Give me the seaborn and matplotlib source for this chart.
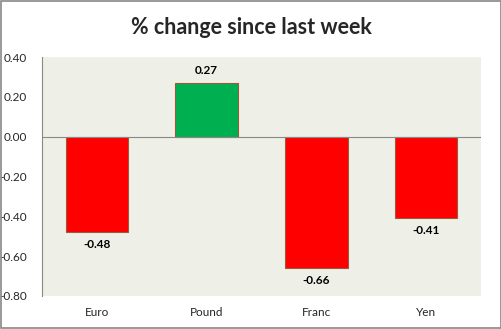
import matplotlib
matplotlib.use("Agg")
import matplotlib.pyplot as plt
import seaborn as sns
import pandas as pd
from matplotlib.patches import Rectangle

categories = ["Euro", "Pound", "Franc", "Yen"]
values = [-0.48, 0.27, -0.66, -0.41]
bar_colors = ["#FF0000" if v < 0 else "#00B050" for v in values]
yticks = [0.40, 0.20, 0.00, -0.20, -0.40, -0.60, -0.80]

sns.set_theme(style="white")
plt.rcParams['font.family'] = ['Lato', 'DejaVu Sans']

df = pd.DataFrame({"cat": categories, "val": values})

fig = plt.figure(figsize=(5.02, 3.29), dpi=100)
ax = fig.add_axes([42/502, 1-296/329, (481-42)/502, (296-57)/329])
ax.set_facecolor("#EEF0E8")

sns.barplot(data=df, x="cat", y="val", hue="cat", palette=bar_colors, legend=False,
            width=0.57, edgecolor="#9C5A3C", linewidth=0.8, ax=ax, saturation=1)

ax.set_ylim(-0.80, 0.40)
ax.set_xlim(-0.5, 3.5)
ax.set_yticks(yticks)
ax.set_yticklabels([f"{t:.2f}" for t in yticks], fontsize=8.5)
ax.tick_params(axis='y', length=0, pad=11)
ax.tick_params(axis='x', length=0, pad=8, labelsize=8.5)
ax.set_xlabel("")
ax.set_ylabel("")
for s in ["top", "right", "bottom"]:
    ax.spines[s].set_visible(False)
ax.spines["left"].set_color("#888888")
ax.spines["left"].set_linewidth(0.8)
ax.axhline(0, color="#888888", linewidth=0.8, zorder=1)

for i, v in enumerate(values):
    off = 0.035 if v >= 0 else -0.035
    ax.text(i, v + off, f"{v:.2f}", ha="center", va="bottom" if v >= 0 else "top",
            fontsize=8.5, fontweight="bold", color="black")

fig.suptitle("% change since last week", y=1-27/329, va="center", fontsize=15.5, fontweight="bold")

fig.patches.append(Rectangle((0.001, 0.002), 0.997, 0.995, transform=fig.transFigure,
                             fill=False, edgecolor="#888888", linewidth=1.2))

fig.savefig("out.png", dpi=100, facecolor="white")
